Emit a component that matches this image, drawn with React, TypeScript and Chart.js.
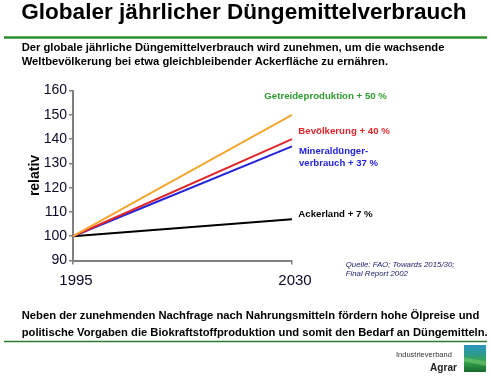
import React, { useEffect, useRef } from "react";
import Chart from "chart.js/auto";

// ---- data ----
const years = ["1995", "2030"];
const getreideproduktion = [100, 150];
const bevoelkerung = [100, 140];
const mineralduengerverbrauch = [100, 137];
const ackerland = [100, 107];
const yMin = 90;
const yMax = 160;
const yStep = 10;

const titleText = "Globaler jährlicher Düngemittelverbrauch";
const introLines = [
  "Der globale jährliche Düngemittelverbrauch wird zunehmen, um die wachsende",
  "Weltbevölkerung bei etwa gleichbleibender Ackerfläche zu ernähren.",
];
const footLines = [
  "Neben der zunehmenden Nachfrage nach Nahrungsmitteln fördern hohe Ölpreise und",
  "politische Vorgaben die Biokraftstoffproduktion und somit den Bedarf an Düngemitteln.",
];
const seriesLabels = [
  ["Getreideproduktion + 50 %"],
  ["Bevölkerung + 40 %"],
  ["Mineraldünger-", "verbrauch + 37 %"],
  ["Ackerland + 7 %"],
];
const sourceLines = ["Quelle: FAO; Towards 2015/30;", "Final Report 2002"];

const FONT = "'Liberation Sans', Arial, Helvetica, sans-serif";
const GREEN = "#2f9a2f";
const RED = "#e0262a";
const BLUE = "#2222dd";
const ORANGE = "#f5a531";
const AXIS = "#808080";
const TICK_TEXT = "#0a0a28";

function fitText(
  ctx: CanvasRenderingContext2D,
  text: string,
  x: number,
  y: number,
  width: number,
  weight: string,
  style: string,
  color: string
) {
  ctx.font = `${style} ${weight} 100px ${FONT}`;
  const w = ctx.measureText(text).width;
  const size = (100 * width) / w;
  ctx.font = `${style} ${weight} ${size}px ${FONT}`;
  ctx.fillStyle = color;
  ctx.textAlign = "left";
  ctx.textBaseline = "alphabetic";
  ctx.fillText(text, x, y);
  return size;
}

function sizedText(
  ctx: CanvasRenderingContext2D,
  text: string,
  x: number,
  y: number,
  size: number,
  weight: string,
  style: string,
  color: string
) {
  ctx.font = `${style} ${weight} ${size}px ${FONT}`;
  ctx.fillStyle = color;
  ctx.textAlign = "left";
  ctx.textBaseline = "alphabetic";
  ctx.fillText(text, x, y);
}

const decorPlugin = {
  id: "decor",
  beforeDraw(chart: any) {
    const ctx = chart.ctx as CanvasRenderingContext2D;
    ctx.save();
    ctx.fillStyle = "#ffffff";
    ctx.fillRect(0, 0, chart.width, chart.height);
    ctx.restore();
  },
  afterDraw(chart: any) {
    const ctx = chart.ctx as CanvasRenderingContext2D;
    ctx.save();
    // title
    fitText(ctx, titleText, 21.2, 19, 445.5, "bold", "normal", "#000");
    // top rule
    ctx.strokeStyle = "#2b8f2b";
    ctx.lineWidth = 2.5;
    ctx.beginPath();
    ctx.moveTo(4, 37.5);
    ctx.lineTo(487, 37.5);
    ctx.stroke();
    // intro
    fitText(ctx, introLines[0], 21.7, 50.7, 423, "bold", "normal", "#000");
    fitText(ctx, introLines[1], 21.7, 65, 366.6, "bold", "normal", "#000");
    // series annotations
    fitText(ctx, seriesLabels[0][0], 264.3, 99, 122.7, "bold", "normal", GREEN);
    fitText(ctx, seriesLabels[1][0], 298.3, 133.5, 91.7, "bold", "normal", RED);
    const s = fitText(ctx, seriesLabels[2][1], 299, 165.5, 79, "bold", "normal", BLUE);
    sizedText(ctx, seriesLabels[2][0], 299, 154.3, s, "bold", "normal", BLUE);
    fitText(ctx, seriesLabels[3][0], 298.3, 217.3, 74.4, "bold", "normal", "#000");
    // source
    const ss = fitText(ctx, sourceLines[0], 345.7, 266.8, 109, "normal", "italic", "#1a1a66");
    sizedText(ctx, sourceLines[1], 345.7, 276, ss, "normal", "italic", "#1a1a66");
    // footer text
    fitText(ctx, footLines[0], 21.7, 319.3, 458, "bold", "normal", "#000");
    fitText(ctx, footLines[1], 21.7, 335.5, 466.6, "bold", "normal", "#000");
    // bottom rule
    ctx.strokeStyle = "#2a7d2a";
    ctx.lineWidth = 1.5;
    ctx.beginPath();
    ctx.moveTo(4, 341.5);
    ctx.lineTo(487, 341.5);
    ctx.stroke();
    // logo text
    fitText(ctx, "Industrieverband", 396, 357, 56, "normal", "normal", "#333");
    fitText(ctx, "Agrar", 430, 370.5, 27, "bold", "normal", "#222");
    // logo mark
    const lx = 464, ly = 345, lw = 22, lh = 27;
    const g = ctx.createLinearGradient(0, ly, 0, ly + lh);
    g.addColorStop(0, "#2f96c4");
    g.addColorStop(0.35, "#2a9a8a");
    g.addColorStop(0.6, "#3aa850");
    g.addColorStop(1, "#15692f");
    ctx.fillStyle = g;
    ctx.fillRect(lx, ly, lw, lh);
    ctx.fillStyle = "rgba(120,200,110,0.55)";
    ctx.beginPath();
    ctx.moveTo(lx, ly + lh * 0.45);
    ctx.lineTo(lx + lw, ly + lh * 0.62);
    ctx.lineTo(lx + lw, ly + lh * 0.78);
    ctx.lineTo(lx, ly + lh * 0.6);
    ctx.closePath();
    ctx.fill();
    ctx.restore();
  },
};

export default function App() {
  const canvasRef = useRef<HTMLCanvasElement | null>(null);

  useEffect(() => {
    if (!canvasRef.current) return;
    const chart = new Chart(canvasRef.current, {
      type: "line",
      data: {
        labels: years,
        datasets: [
          { label: "Getreideproduktion", data: getreideproduktion, borderColor: ORANGE },
          { label: "Bevölkerung", data: bevoelkerung, borderColor: RED },
          { label: "Mineraldüngerverbrauch", data: mineralduengerverbrauch, borderColor: BLUE },
          { label: "Ackerland", data: ackerland, borderColor: "#000" },
        ].map((d) => ({ ...d, borderWidth: 2, pointRadius: 0, fill: false, tension: 0 })),
      },
      options: {
        responsive: false,
        animation: false,
        layout: { padding: { left: 0, top: 90.5, right: 199, bottom: 0 } },
        plugins: { legend: { display: false }, tooltip: { enabled: false } },
        scales: {
          x: {
            type: "category",
            offset: false,
            ticks: {
              font: { family: FONT, size: 15 },
              color: TICK_TEXT,
              padding: 7,
              maxRotation: 0,
              autoSkip: false,
              labelOffset: 3,
            },
            grid: { drawOnChartArea: false, drawTicks: true, tickLength: 4, color: AXIS, lineWidth: 1.5 },
            border: { display: true, color: AXIS, width: 2 },
            afterFit: (sc: any) => {
              sc.height = 115.5;
            },
          },
          y: {
            min: yMin,
            max: yMax,
            ticks: {
              stepSize: yStep,
              font: { family: FONT, size: 14 },
              color: TICK_TEXT,
              padding: 2,
            },
            grid: { drawOnChartArea: false, drawTicks: true, tickLength: 4, color: AXIS, lineWidth: 1.5 },
            border: { display: true, color: AXIS, width: 2 },
            title: {
              display: true,
              text: "relativ",
              font: { family: FONT, size: 14, weight: "bold" },
              color: "#000",
              padding: { top: 27 },
            },
            afterFit: (sc: any) => {
              sc.width = 73;
            },
          },
        },
      },
      plugins: [decorPlugin],
    } as any);
    return () => chart.destroy();
  }, []);

  return (
    <div style={{ position: "absolute", left: 0, top: 0, width: 491, height: 376 }}>
      <canvas ref={canvasRef} width={491} height={376} style={{ display: "block" }} />
    </div>
  );
}
